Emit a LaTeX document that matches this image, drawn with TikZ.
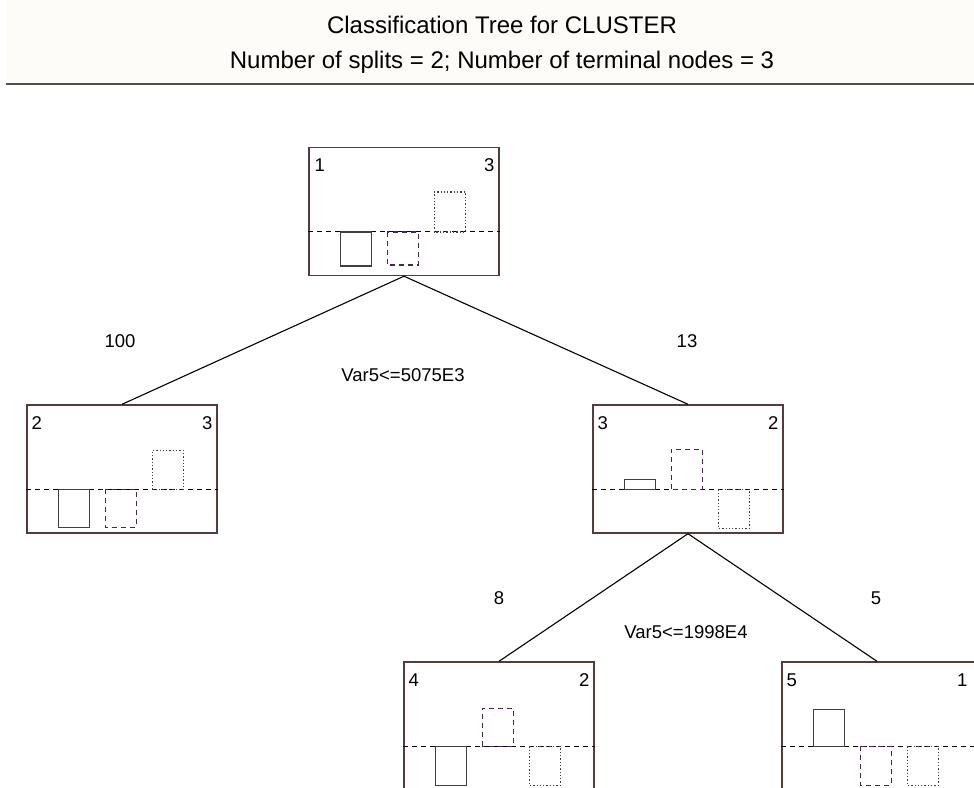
\documentclass[tikz,border=0pt]{standalone}
\usepackage{fontspec}
\setmainfont{Liberation Sans}
\usetikzlibrary{positioning}

\definecolor{headbg}{RGB}{253,252,248}
\definecolor{headrule}{RGB}{80,80,80}
\definecolor{boxline}{RGB}{88,58,58}
\definecolor{barpurple}{RGB}{78,32,86}
\definecolor{bargray}{RGB}{64,64,64}

\tikzset{
  treebox/.style={draw=boxline,line width=1.4pt,minimum width=190pt,minimum height=128pt,inner sep=0pt},
  num/.style={font=\fontsize{18.5}{20}\selectfont,inner sep=0pt},
  title/.style={font=\fontsize{24}{28}\selectfont,inner sep=0pt},
  splitline/.style={line width=1.3pt,dash pattern=on 5pt off 4pt},
  solidbar/.style={draw=bargray,line width=1.6pt},
  purplebar/.style={draw=barpurple,line width=1.5pt,dash pattern=on 5pt off 4pt},
  dotbar/.style={draw=bargray,line width=1.4pt,dash pattern=on 1.3pt off 2pt},
  branch/.style={line width=1.1pt}
}

% node name, then the three bar heights (pt, up is positive)
\newcommand{\clbars}[4]{%
  \draw[splitline] ([yshift=-85pt]#1.north west) -- ([yshift=-85pt]#1.north east);
  \draw[solidbar] ([xshift=32pt,yshift=-85pt]#1.north west) rectangle ++(31pt,#2pt);
  \draw[purplebar] ([xshift=79pt,yshift=-85pt]#1.north west) rectangle ++(31pt,#3pt);
  \draw[dotbar] ([xshift=126pt,yshift=-85pt]#1.north west) rectangle ++(31pt,#4pt);
}

\begin{document}
\begin{tikzpicture}[x=1pt,y=-1pt]
  \clip (0,0) rectangle (974,787);
  \fill[white] (0,0) rectangle (974,787);

  % header
  \fill[headbg] (6,0) rectangle (974,83);
  \draw[headrule,line width=2.5pt] (6,84) -- (974,84);
  \node[title] (t1) at (502,25) {Classification Tree for CLUSTER};
  \node[title] (t2) at (502,62) {Number of splits = 2; Number of terminal nodes = 3};

  % tree nodes
  \node[treebox] (1) at (404,211.5) {};
  \node[treebox] (2) at (122,469) {};
  \node[treebox] (3) at (688,469) {};
  \node[treebox] (4) at (499,726) {};
  \node[treebox,minimum width=200pt] (5) at (882,726) {};

  \node[num,anchor=north west] (1id) at ([xshift=6pt,yshift=-12pt]1.north west) {1};
  \node[num,anchor=north east] (1n) at ([xshift=-5pt,yshift=-12pt]1.north east) {3};
  \node[num,anchor=north west] (2id) at ([xshift=5pt,yshift=-12pt]2.north west) {2};
  \node[num,anchor=north east] (2n) at ([xshift=-5pt,yshift=-12pt]2.north east) {3};
  \node[num,anchor=north west] (3id) at ([xshift=5pt,yshift=-12pt]3.north west) {3};
  \node[num,anchor=north east] (3n) at ([xshift=-5pt,yshift=-12pt]3.north east) {2};
  \node[num,anchor=north west] (4id) at ([xshift=5pt,yshift=-12pt]4.north west) {4};
  \node[num,anchor=north east] (4n) at ([xshift=-5pt,yshift=-12pt]4.north east) {2};
  \node[num,anchor=north west] (5id) at ([xshift=5pt,yshift=-12pt]5.north west) {5};
  \node[num,anchor=north east] (5n) at ([xshift=-15pt,yshift=-12pt]5.north east) {1};

  \clbars{1}{-34}{-33}{40}
  \clbars{2}{-38}{-38}{39}
  \clbars{3}{10}{40}{-39}
  \clbars{4}{-39}{38}{-39}
  \clbars{5}{37}{-39}{-39}

  % branches
  \draw[branch] (1.south) -- (2.north);
  \draw[branch] (1.south) -- (3.north);
  \draw[branch] (3.south) -- (4.north);
  \draw[branch] (3.south) -- ([xshift=-5pt]5.north);

  \node[num] (c2) at (120,341) {100};
  \node[num] (c3) at (687,341) {13};
  \node[num] (s1) at (403,375) {Var5<=5075E3};
  \node[num] (c4) at (499,598) {8};
  \node[num] (c5) at (876,598) {5};
  \node[num] (s3) at (686,632) {Var5<=1998E4};
\end{tikzpicture}
\end{document}
